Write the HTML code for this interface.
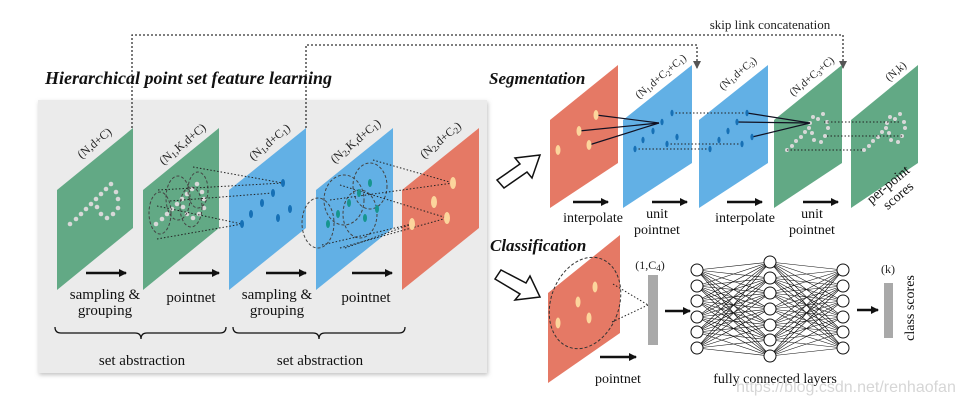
<!DOCTYPE html>
<html><head><meta charset="utf-8"><style>
html,body{margin:0;padding:0;background:#fff;}
svg{display:block;font-family:"Liberation Serif",serif;}
</style></head><body>
<svg width="962" height="405" viewBox="0 0 962 405" xmlns="http://www.w3.org/2000/svg">
<defs>
<marker id="ah" markerWidth="8" markerHeight="8" refX="7" refY="4" orient="auto" markerUnits="userSpaceOnUse"><path d="M0,0 L8,4 L0,8 z" fill="#111"/></marker>
<marker id="ag" markerWidth="8" markerHeight="8" refX="7" refY="4" orient="auto" markerUnits="userSpaceOnUse"><path d="M0,0 L8,4 L0,8 z" fill="#555"/></marker>
<filter id="sh" x="-5%" y="-5%" width="110%" height="110%"><feDropShadow dx="1" dy="2" stdDeviation="2" flood-color="#999" flood-opacity="0.6"/></filter>
</defs>

<rect x="38" y="100" width="449" height="273" fill="#ebebeb" filter="url(#sh)"/>

<g fill="none" stroke="#333" stroke-width="1.3" stroke-dasharray="2,2">
<path d="M132,128 V35 H843 V68" marker-end="url(#ag)"/>
<path d="M306,128 V45 H697 V68" marker-end="url(#ag)"/>
</g>
<text x="770" y="29" font-size="13" text-anchor="middle" fill="#222">skip link concatenation</text>

<text x="45" y="84" font-size="18" font-weight="bold" font-style="italic" fill="#111">Hierarchical point set feature learning</text>
<text x="489" y="84" font-size="17" font-weight="bold" font-style="italic" fill="#111">Segmentation</text>
<text x="490" y="251" font-size="17" font-weight="bold" font-style="italic" fill="#111">Classification</text>

<polygon points="57,190 133,128 133,228 57,290" fill="#62a985"/>
<polygon points="143,190 219,128 219,228 143,290" fill="#62a985"/>
<polygon points="229,190 306,128 306,228 229,290" fill="#62b0e5"/>
<polygon points="316,190 393,128 393,228 316,290" fill="#62b0e5"/>
<polygon points="402,190 479,128 479,228 402,290" fill="#e57965"/>

<g fill="#d8d8d8">
<circle cx="70" cy="224" r="2.3"/><circle cx="76" cy="219" r="2.3"/><circle cx="81" cy="214" r="2.3"/><circle cx="86" cy="209" r="2.3"/><circle cx="91" cy="204" r="2.3"/><circle cx="96" cy="199" r="2.3"/><circle cx="101" cy="194" r="2.3"/><circle cx="106" cy="189" r="2.3"/><circle cx="111" cy="184" r="2.3"/><circle cx="116" cy="192" r="2.3"/><circle cx="118" cy="199" r="2.3"/><circle cx="118" cy="208" r="2.3"/><circle cx="113" cy="214" r="2.3"/><circle cx="107" cy="218" r="2.3"/><circle cx="101" cy="214" r="2.3"/><circle cx="97" cy="207" r="2.3"/>
<g transform="translate(86,0)">
<circle cx="70" cy="224" r="2.3"/><circle cx="76" cy="219" r="2.3"/><circle cx="81" cy="214" r="2.3"/><circle cx="86" cy="209" r="2.3"/><circle cx="91" cy="204" r="2.3"/><circle cx="96" cy="199" r="2.3"/><circle cx="101" cy="194" r="2.3"/><circle cx="106" cy="189" r="2.3"/><circle cx="111" cy="184" r="2.3"/><circle cx="116" cy="192" r="2.3"/><circle cx="118" cy="199" r="2.3"/><circle cx="118" cy="208" r="2.3"/><circle cx="113" cy="214" r="2.3"/><circle cx="107" cy="218" r="2.3"/><circle cx="101" cy="214" r="2.3"/><circle cx="97" cy="207" r="2.3"/>
</g></g>
<g fill="none" stroke="#444" stroke-width="1" stroke-dasharray="3,2">
<ellipse cx="160" cy="213" rx="11" ry="21"/>
<ellipse cx="178" cy="198" rx="12" ry="22"/>
<ellipse cx="191" cy="207" rx="11" ry="20"/>
<ellipse cx="198" cy="190" rx="10" ry="18"/>
<ellipse cx="318" cy="223" rx="16" ry="25"/>
<ellipse cx="344" cy="200" rx="20" ry="25"/>
<ellipse cx="360" cy="214" rx="17" ry="24"/>
<ellipse cx="370" cy="186" rx="17" ry="23"/>
</g>
<g fill="none" stroke="#222" stroke-width="1" stroke-dasharray="1.5,2">
<line x1="193" y1="167" x2="283" y2="183"/><line x1="158" y1="190" x2="283" y2="183"/>
<line x1="170" y1="201" x2="273" y2="193"/>
<line x1="157" y1="206" x2="242" y2="224"/><line x1="157" y1="239" x2="242" y2="224"/>
<line x1="373" y1="160" x2="453" y2="183"/><line x1="330" y1="200" x2="453" y2="183"/>
<line x1="340" y1="185" x2="447" y2="218"/><line x1="340" y1="248" x2="447" y2="218"/>
<line x1="322" y1="245" x2="412" y2="224"/><line x1="345" y1="248" x2="412" y2="224"/>
</g>
<g fill="#1670b5">
<ellipse cx="283" cy="183" rx="2" ry="4"/><ellipse cx="273" cy="193" rx="2" ry="4"/><ellipse cx="262" cy="203" rx="2" ry="4"/><ellipse cx="251" cy="214" rx="2" ry="4"/><ellipse cx="242" cy="224" rx="2" ry="4"/><ellipse cx="278" cy="218" rx="2" ry="4"/><ellipse cx="290" cy="209" rx="2" ry="4"/>
</g>
<g fill="#16958f">
<ellipse cx="370" cy="183" rx="2" ry="4"/><ellipse cx="359" cy="193" rx="2" ry="4"/><ellipse cx="349" cy="203" rx="2" ry="4"/><ellipse cx="338" cy="214" rx="2" ry="4"/><ellipse cx="328" cy="224" rx="2" ry="4"/><ellipse cx="365" cy="218" rx="2" ry="4"/><ellipse cx="377" cy="209" rx="2" ry="4"/>
</g>
<g fill="#fcd59c">
<ellipse cx="453" cy="183" rx="3" ry="6"/><ellipse cx="434" cy="202" rx="3" ry="6"/><ellipse cx="447" cy="218" rx="3" ry="6"/><ellipse cx="412" cy="224" rx="3" ry="6"/>
</g>

<g font-size="12" fill="#222" text-anchor="middle">
<text transform="translate(97,146) rotate(-40)">(N,d+C)</text>
<text transform="translate(185,147) rotate(-40)">(N<tspan font-size="9" dy="2">1</tspan><tspan dy="-2">,K,d+C)</tspan></text>
<text transform="translate(272,145) rotate(-40)">(N<tspan font-size="9" dy="2">1</tspan><tspan dy="-2">,d+C</tspan><tspan font-size="9" dy="2">1</tspan><tspan dy="-2">)</tspan></text>
<text transform="translate(358,144) rotate(-40)">(N<tspan font-size="9" dy="2">2</tspan><tspan dy="-2">,K,d+C</tspan><tspan font-size="9" dy="2">1</tspan><tspan dy="-2">)</tspan></text>
<text transform="translate(443,143) rotate(-40)">(N<tspan font-size="9" dy="2">2</tspan><tspan dy="-2">,d+C</tspan><tspan font-size="9" dy="2">2</tspan><tspan dy="-2">)</tspan></text>
</g>

<g stroke="#111" stroke-width="2.5" marker-end="url(#ah)">
<line x1="86" y1="273" x2="126" y2="273"/><line x1="179" y1="273" x2="219" y2="273"/>
<line x1="266" y1="273" x2="306" y2="273"/><line x1="352" y1="273" x2="392" y2="273"/>
</g>
<g font-size="15" fill="#111" text-anchor="middle">
<text x="105" y="299">sampling &amp;</text><text x="105" y="315">grouping</text>
<text x="191" y="302">pointnet</text>
<text x="277" y="299">sampling &amp;</text><text x="277" y="315">grouping</text>
<text x="366" y="302">pointnet</text>
<text x="142" y="365">set abstraction</text>
<text x="320" y="365">set abstraction</text>
</g>
<g fill="none" stroke="#111" stroke-width="1.3">
<path d="M55,327 q0,6 6,6 H135 q6,0 6,6 q0,-6 6,-6 H220 q6,0 6,-6"/>
<path d="M233,327 q0,6 6,6 H313 q6,0 6,6 q0,-6 6,-6 H399 q6,0 6,-6"/>
</g>

<g fill="#fff" stroke="#111" stroke-width="1.5">
<polygon points="497,180 520,164 515,158 540,155 532,178 527,172 504,188"/>
<polygon points="495,279 520,294 515,300 540,297 530,276 526,283 501,270"/>
</g>

<polygon points="550,120 618,65 618,163 550,208" fill="#e57965"/>
<polygon points="623,120 692,65 692,163 623,208" fill="#62b0e5"/>
<polygon points="699,120 768,65 768,163 699,208" fill="#62b0e5"/>
<polygon points="774,120 842,65 842,163 774,208" fill="#62a985"/>
<polygon points="851,120 918,65 918,163 851,208" fill="#62a985"/>

<g fill="#d8d8d8">
<circle cx="787" cy="150" r="2"/><circle cx="792" cy="146" r="2"/><circle cx="796" cy="141" r="2"/><circle cx="801" cy="137" r="2"/><circle cx="805" cy="132" r="2"/><circle cx="809" cy="128" r="2"/><circle cx="810" cy="123" r="2"/><circle cx="813" cy="117" r="2"/><circle cx="818" cy="119" r="2"/><circle cx="823" cy="114" r="2"/><circle cx="827" cy="122" r="2"/><circle cx="828" cy="128" r="2"/><circle cx="825" cy="136" r="2"/><circle cx="821" cy="142" r="2"/><circle cx="814" cy="140" r="2"/><circle cx="812" cy="133" r="2"/>
<g transform="translate(77,0)">
<circle cx="787" cy="150" r="2"/><circle cx="792" cy="146" r="2"/><circle cx="796" cy="141" r="2"/><circle cx="801" cy="137" r="2"/><circle cx="805" cy="132" r="2"/><circle cx="809" cy="128" r="2"/><circle cx="810" cy="123" r="2"/><circle cx="813" cy="117" r="2"/><circle cx="818" cy="119" r="2"/><circle cx="823" cy="114" r="2"/><circle cx="827" cy="122" r="2"/><circle cx="828" cy="128" r="2"/><circle cx="825" cy="136" r="2"/><circle cx="821" cy="142" r="2"/><circle cx="814" cy="140" r="2"/><circle cx="812" cy="133" r="2"/>
</g></g>
<g fill="none" stroke="#222" stroke-width="1" stroke-dasharray="1.5,2">
<line x1="672" y1="113" x2="747" y2="113"/><line x1="667" y1="144" x2="742" y2="144"/><line x1="635" y1="149" x2="710" y2="149"/>
<line x1="824" y1="122" x2="901" y2="122"/><line x1="827" y1="136" x2="904" y2="136"/><line x1="787" y1="150" x2="864" y2="150"/>
</g>
<g stroke="#112" stroke-width="1.2">
<line x1="596" y1="115" x2="659" y2="123"/><line x1="579" y1="131" x2="659" y2="123"/><line x1="589" y1="145" x2="659" y2="123"/>
<line x1="747" y1="113" x2="810" y2="123"/><line x1="737" y1="122" x2="810" y2="123"/><line x1="752" y1="137" x2="810" y2="123"/>
</g>
<g fill="#fcd59c">
<ellipse cx="596" cy="115" rx="2.5" ry="5"/><ellipse cx="579" cy="131" rx="2.5" ry="5"/><ellipse cx="589" cy="145" rx="2.5" ry="5"/><ellipse cx="558" cy="150" rx="2.5" ry="5"/>
</g>
<g fill="#1670b5">
<ellipse cx="672" cy="113" rx="1.6" ry="3.2"/><ellipse cx="662" cy="122" rx="1.6" ry="3.2"/><ellipse cx="653" cy="131" rx="1.6" ry="3.2"/><ellipse cx="643" cy="140" rx="1.6" ry="3.2"/><ellipse cx="635" cy="149" rx="1.6" ry="3.2"/><ellipse cx="677" cy="137" rx="1.6" ry="3.2"/><ellipse cx="667" cy="144" rx="1.6" ry="3.2"/>
<ellipse cx="747" cy="113" rx="1.6" ry="3.2"/><ellipse cx="737" cy="122" rx="1.6" ry="3.2"/><ellipse cx="728" cy="131" rx="1.6" ry="3.2"/><ellipse cx="719" cy="140" rx="1.6" ry="3.2"/><ellipse cx="710" cy="149" rx="1.6" ry="3.2"/><ellipse cx="752" cy="137" rx="1.6" ry="3.2"/><ellipse cx="742" cy="144" rx="1.6" ry="3.2"/>
</g>
<g font-size="11" fill="#222" text-anchor="middle">
<text transform="translate(663,79) rotate(-40)">(N<tspan font-size="8" dy="2">1</tspan><tspan dy="-2">,d+C</tspan><tspan font-size="8" dy="2">2</tspan><tspan dy="-2">+C</tspan><tspan font-size="8" dy="2">1</tspan><tspan dy="-2">)</tspan></text>
<text transform="translate(740,76) rotate(-40)">(N<tspan font-size="8" dy="2">1</tspan><tspan dy="-2">,d+C</tspan><tspan font-size="8" dy="2">3</tspan><tspan dy="-2">)</tspan></text>
<text transform="translate(814,79) rotate(-40)">(N,d+C<tspan font-size="8" dy="2">3</tspan><tspan dy="-2">+C)</tspan></text>
<text transform="translate(898,74) rotate(-40)">(N,k)</text>
</g>
<text transform="translate(891,188) rotate(-40)" font-size="14" fill="#111" text-anchor="middle">per-point</text>
<text transform="translate(901,199) rotate(-40)" font-size="14" fill="#111" text-anchor="middle">scores</text>
<g stroke="#111" stroke-width="2.5" marker-end="url(#ah)">
<line x1="573" y1="202" x2="608" y2="202"/><line x1="652" y1="202" x2="687" y2="202"/>
<line x1="727" y1="202" x2="762" y2="202"/><line x1="803" y1="202" x2="838" y2="202"/>
</g>
<g font-size="14" fill="#111" text-anchor="middle">
<text x="593" y="222">interpolate</text>
<text x="657" y="218">unit</text><text x="657" y="234">pointnet</text>
<text x="745" y="222">interpolate</text>
<text x="812" y="218">unit</text><text x="812" y="234">pointnet</text>
</g>

<polygon points="548,293 620,235 620,333 548,383" fill="#e57965"/>
<ellipse cx="585" cy="303" rx="34" ry="47" transform="rotate(20 585 303)" fill="none" stroke="#333" stroke-width="1" stroke-dasharray="3,2"/>
<g fill="none" stroke="#222" stroke-width="1" stroke-dasharray="1.5,2">
<line x1="613" y1="284" x2="648" y2="305"/><line x1="612" y1="322" x2="648" y2="305"/>
</g>
<g fill="#fcd59c">
<ellipse cx="595" cy="287" rx="2.5" ry="5.5"/><ellipse cx="578" cy="302" rx="2.5" ry="5.5"/><ellipse cx="589" cy="318" rx="2.5" ry="5.5"/><ellipse cx="558" cy="323" rx="2.5" ry="5.5"/>
</g>
<rect x="648" y="275" width="10" height="70" fill="#a9a9a9"/>
<text x="650" y="269" font-size="12" text-anchor="middle" fill="#222">(1,C<tspan font-size="9" dy="2">4</tspan><tspan dy="-2">)</tspan></text>
<g stroke="#111" stroke-width="2.5" marker-end="url(#ah)">
<line x1="665" y1="311" x2="690" y2="311"/><line x1="857" y1="310" x2="878" y2="310"/>
<line x1="600" y1="357" x2="636" y2="357"/>
</g>
<g stroke="#111" stroke-width="0.6">
<path d="M697,270L770,262M697,270L770,278M697,270L770,293M697,270L770,309M697,270L770,325M697,270L770,340M697,270L770,356M697,286L770,262M697,286L770,278M697,286L770,293M697,286L770,309M697,286L770,325M697,286L770,340M697,286L770,356M697,301L770,262M697,301L770,278M697,301L770,293M697,301L770,309M697,301L770,325M697,301L770,340M697,301L770,356M697,317L770,262M697,317L770,278M697,317L770,293M697,317L770,309M697,317L770,325M697,317L770,340M697,317L770,356M697,332L770,262M697,332L770,278M697,332L770,293M697,332L770,309M697,332L770,325M697,332L770,340M697,332L770,356M697,348L770,262M697,348L770,278M697,348L770,293M697,348L770,309M697,348L770,325M697,348L770,340M697,348L770,356"/>
<path d="M843,270L770,262M843,270L770,278M843,270L770,293M843,270L770,309M843,270L770,325M843,270L770,340M843,270L770,356M843,286L770,262M843,286L770,278M843,286L770,293M843,286L770,309M843,286L770,325M843,286L770,340M843,286L770,356M843,301L770,262M843,301L770,278M843,301L770,293M843,301L770,309M843,301L770,325M843,301L770,340M843,301L770,356M843,317L770,262M843,317L770,278M843,317L770,293M843,317L770,309M843,317L770,325M843,317L770,340M843,317L770,356M843,332L770,262M843,332L770,278M843,332L770,293M843,332L770,309M843,332L770,325M843,332L770,340M843,332L770,356M843,348L770,262M843,348L770,278M843,348L770,293M843,348L770,309M843,348L770,325M843,348L770,340M843,348L770,356"/>
</g>
<g fill="#fff" stroke="#111" stroke-width="1">
<circle cx="697" cy="270" r="6"/><circle cx="697" cy="286" r="6"/><circle cx="697" cy="301" r="6"/><circle cx="697" cy="317" r="6"/><circle cx="697" cy="332" r="6"/><circle cx="697" cy="348" r="6"/>
<circle cx="770" cy="262" r="6"/><circle cx="770" cy="278" r="6"/><circle cx="770" cy="293" r="6"/><circle cx="770" cy="309" r="6"/><circle cx="770" cy="325" r="6"/><circle cx="770" cy="340" r="6"/><circle cx="770" cy="356" r="6"/>
<circle cx="843" cy="270" r="6"/><circle cx="843" cy="286" r="6"/><circle cx="843" cy="301" r="6"/><circle cx="843" cy="317" r="6"/><circle cx="843" cy="332" r="6"/><circle cx="843" cy="348" r="6"/>
</g>
<rect x="884" y="283" width="9" height="55" fill="#a9a9a9"/>
<text x="888" y="273" font-size="12" text-anchor="middle" fill="#222">(k)</text>
<text transform="translate(914,308) rotate(-90)" font-size="14" text-anchor="middle" fill="#111">class scores</text>
<g font-size="14" fill="#111" text-anchor="middle">
<text x="618" y="383">pointnet</text>
<text x="775" y="383">fully connected layers</text>
</g>
<text x="846" y="392" font-size="16" font-family="Liberation Sans, sans-serif" text-anchor="middle" fill="#d6d6d6">https://blog.csdn.net/renhaofan</text>
</svg>
</body></html>
